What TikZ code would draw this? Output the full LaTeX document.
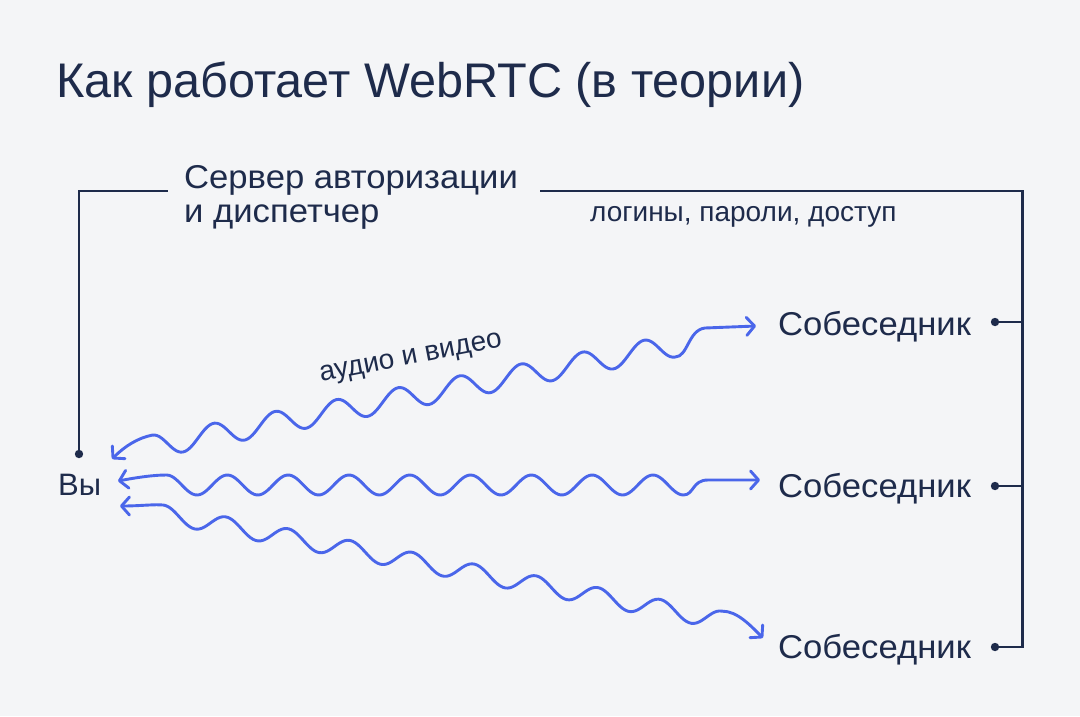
\documentclass[tikz,border=0pt]{standalone}
\usepackage{fontspec}
\setmainfont{Liberation Sans}
\newfontfamily\lblfont[FakeStretch=1.05]{Liberation Sans}
\usetikzlibrary{arrows.meta}
\definecolor{bgc}{HTML}{F4F5F7}
\definecolor{navy}{HTML}{1E2B4B}
\definecolor{wblue}{HTML}{4A66EA}
\begin{document}
\begin{tikzpicture}[x=1pt,y=-1pt,
  lbl/.style={anchor=base west,inner sep=0pt,text=navy,font=\lblfont\fontsize{33}{40}\selectfont},
  small/.style={inner sep=0pt,text=navy,font=\fontsize{28}{33}\selectfont},
  navyline/.style={draw=navy,line width=2.8pt},
  dotc/.style={fill=navy},
  wave/.style={draw=wblue,line width=2.9pt,line cap=round,line join=round,
    {Straight Barb[length=8pt,width=18pt,round]}-{Straight Barb[length=8pt,width=18pt,round]}}]
\useasboundingbox (0,0) rectangle (1080,716);
\fill[bgc] (0,0) rectangle (1080,716);
% texts
\node[anchor=base west,inner sep=0pt,text=navy,font=\fontsize{48.6}{58}\selectfont] (title) at (56,97) {Как работает WebRTC (в теории)};
\node[lbl] (srv) at (184,188) {Сервер авторизации};
\node[lbl] (srv2) at (184,222.7) {и диспетчер};
\node[small,anchor=base west] (login) at (590,221.7) {логины, пароли, доступ};
\node[anchor=base west,inner sep=0pt,text=navy,font=\fontsize{31}{40}\selectfont] (vy) at (58,495) {Вы};
\node[lbl] (sob1) at (778,335) {Собеседник};
\node[lbl] (sob2) at (778,497) {Собеседник};
\node[lbl] (sob3) at (778,658) {Собеседник};
\node[small,anchor=base,rotate=11] (audio) at (412,364) {аудио и видео};
% coordinates
\coordinate (dotL) at (79,454);
\coordinate (srvL) at (168,191);
\coordinate (srvR) at (540,191);
\coordinate (corner) at (1022.5,647);
\coordinate (d1) at (995,322);
\coordinate (d2) at (995,486);
\coordinate (d3) at (995,647);
\coordinate (t1) at (1022.5,322);
\coordinate (t2) at (1022.5,486);
% dark connectors
\draw[navyline] (dotL) |- (srvL);
\draw[navyline] (srvR) -| (corner) -- (d3);
\draw[navyline] (d1) -- (t1);
\draw[navyline] (d2) -- (t2);
\foreach \p in {dotL,d1,d2,d3} \fill[dotc] (\p) circle (4.2);
% wave end points
\coordinate (u0) at (112,459);
\coordinate (u1) at (756,326);
\coordinate (m0) at (118,481);
\coordinate (m1) at (760,480);
\coordinate (b0) at (120,506);
\coordinate (b1) at (763,638);
% waves
\draw[wave] (u0) .. controls +(13,-13) and +(-14,2.7) .. (152.25,435.1)
  -- plot[domain=152.25:675,samples=220] (\x,{440.6-0.193*(\x-183)+11.4*cos(5.85366*(\x-183))})
  .. controls (688,357) and (688,330) .. (705,328) -- (u1);
\draw[wave] (m0) .. controls (134,478) and (152,475) .. (166.6,475)
  -- plot[domain=166.6:683.4,samples=220] (\x,{485+10*cos(5.92105*(\x-197))})
  .. controls (694,495) and (692,480) .. (708,480) -- (m1);
\draw[wave] (b0) .. controls (140,506) and (155,504) .. (164,505.1)
  -- plot[domain=164:722,samples=220] (\x,{520+0.19*(\x-195)+9*cos(5.80645*(\x-195))})
  .. controls (737,611) and (750,625) .. (b1);
\end{tikzpicture}
\end{document}
